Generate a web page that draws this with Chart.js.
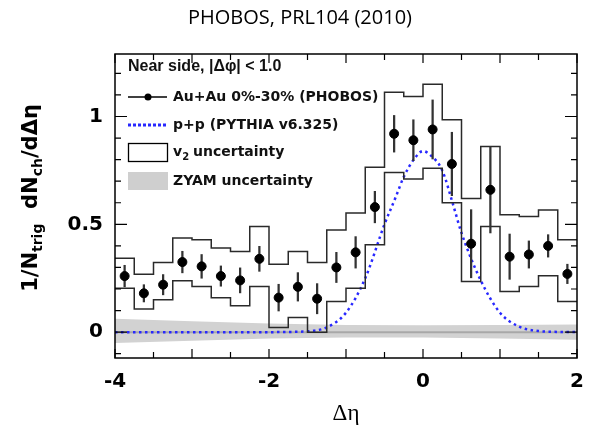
<!DOCTYPE html>
<html>
<head>
<meta charset="utf-8">
<script src="https://cdn.jsdelivr.net/npm/chart.js@4.4.0/dist/chart.umd.min.js"></script>
<style>
  html, body { margin: 0; padding: 0; background: #fff; }
</style>
</head>
<body>
<canvas id="phobosChart" width="592" height="430"></canvas>
<script>
// bin centres in delta-eta (bin width 0.25)
const etaCenters = [-3.875, -3.625, -3.375, -3.125, -2.875, -2.625, -2.375, -2.125,
    -1.875, -1.625, -1.375, -1.125, -0.875, -0.625, -0.375, -0.125,
    0.125, 0.375, 0.625, 0.875, 1.125, 1.375, 1.625, 1.875];
const auauYield = [0.26, 0.18, 0.22, 0.325, 0.305, 0.26, 0.24, 0.34,
    0.16, 0.21, 0.155, 0.30, 0.37, 0.58, 0.92, 0.89,
    0.94, 0.78, 0.41, 0.66, 0.35, 0.36, 0.40, 0.27];
const auauErr = [0.05, 0.04, 0.047, 0.05, 0.055, 0.047, 0.058, 0.058,
    0.062, 0.066, 0.07, 0.07, 0.073, 0.073, 0.085, 0.095,
    0.137, 0.147, 0.158, 0.2, 0.105, 0.063, 0.052, 0.045];
const v2Upper = [0.343, 0.269, 0.323, 0.436, 0.428, 0.39, 0.374, 0.49,
    0.315, 0.374, 0.323, 0.474, 0.552, 0.765, 1.113, 1.093,
    1.15, 0.985, 0.62, 0.861, 0.544, 0.536, 0.567, 0.428];
const v2Lower = [0.204, 0.107, 0.15, 0.238, 0.212, 0.16, 0.122, 0.212,
    0.021, 0.068, 0.0, 0.142, 0.204, 0.405, 0.74, 0.71,
    0.76, 0.60, 0.235, 0.49, 0.188, 0.212, 0.261, 0.142];
const pythiaEta = [-4, -2, -1.5, -1.25, -1.0, -0.75, -0.5, -0.35, -0.25, -0.1, 0,
    0.1, 0.25, 0.4, 0.5, 0.75, 1.0, 1.25, 1.5, 1.75, 2];
const pythiaYield = [0, 0, 0.004, 0.022, 0.09, 0.25, 0.5, 0.63, 0.72, 0.81, 0.84,
    0.82, 0.75, 0.58, 0.46, 0.24, 0.09, 0.025, 0.005, 0.001, 0];
const zyamEta = [-4, -3, -2, -1, 0, 1, 2];
const zyamUpper = [0.062, 0.05, 0.04, 0.033, 0.032, 0.033, 0.035];
const zyamLower = [-0.05, -0.04, -0.03, -0.025, -0.025, -0.03, -0.035];
const yTickLabels = ['0', '0.5', '1'];
const xTickLabels = ['-4', '-2', '0', '2'];

const binHalf = 0.125;

function stepPoints(values) {
    const pts = etaCenters.map((c, i) => ({ x: c - binHalf, y: values[i] }));
    pts.push({ x: etaCenters[etaCenters.length - 1] + binHalf, y: values[values.length - 1] });
    return pts;
}

const tickFont = { family: 'DejaVu Sans', size: 20, weight: 'bold' };

// frame, inward ticks, y title and the in-plot legend
const framePlugin = {
    id: 'frame',
    afterDraw(chart) {
        const ctx = chart.ctx;
        const a = chart.chartArea;
        const xs = chart.scales.x, ys = chart.scales.y;
        ctx.save();
        ctx.strokeStyle = '#000';
        ctx.lineWidth = 1.5;
        ctx.strokeRect(a.left, a.top, a.right - a.left, a.bottom - a.top);
        ctx.lineWidth = 1.2;
        ctx.beginPath();
        xs.ticks.forEach(t => {
            const px = xs.getPixelForValue(t.value);
            const len = Math.abs(t.value % 1) < 1e-6 ? 9 : 6;
            ctx.moveTo(px, a.bottom); ctx.lineTo(px, a.bottom - len);
            ctx.moveTo(px, a.top); ctx.lineTo(px, a.top + len);
        });
        ys.ticks.forEach(t => {
            const py = ys.getPixelForValue(t.value);
            const major = Math.abs((t.value * 2) % 1) < 1e-6;
            const len = major ? 12 : 6;
            ctx.moveTo(a.left, py); ctx.lineTo(a.left + len, py);
            ctx.moveTo(a.right, py); ctx.lineTo(a.right - len, py);
        });
        ctx.stroke();

        // y axis title with subscripts
        const big = 'bold 21px "DejaVu Sans"';
        const small = 'bold 14px "DejaVu Sans"';
        const parts = [['1/N', big, 0], ['trig', small, 6], ['  dN', big, 0], ['ch', small, 6], ['/d\u0394\u03b7', big, 0]];
        let total = 0;
        parts.forEach(p => { ctx.font = p[1]; total += ctx.measureText(p[0]).width; });
        ctx.translate(32, 198);
        ctx.rotate(-Math.PI / 2);
        ctx.fillStyle = '#000';
        ctx.textBaseline = 'middle';
        let cx = -total / 2;
        parts.forEach(p => {
            ctx.font = p[1];
            ctx.fillText(p[0], cx, p[2]);
            cx += ctx.measureText(p[0]).width;
        });
        ctx.restore();

        // legend
        ctx.save();
        ctx.fillStyle = '#111';
        ctx.textBaseline = 'middle';
        ctx.font = 'bold 16px "Liberation Sans"';
        ctx.fillText('Near side, |\u0394\u03c6| < 1.0', 128, 67);
        ctx.font = 'bold 14px "DejaVu Sans"';
        ctx.fillText('Au+Au 0%-30% (PHOBOS)', 173, 97);
        ctx.fillText('p+p (PYTHIA v6.325)', 173, 125);
        ctx.fillText('v', 173, 152);
        const vw = ctx.measureText('v').width;
        ctx.font = 'bold 10px "DejaVu Sans"';
        ctx.fillText('2', 173 + vw, 157);
        ctx.font = 'bold 14px "DejaVu Sans"';
        ctx.fillText(' uncertainty', 173 + vw + 6, 152);
        ctx.fillText('ZYAM uncertainty', 173, 181);
        // symbols
        ctx.strokeStyle = '#000';
        ctx.lineWidth = 1.3;
        ctx.beginPath(); ctx.moveTo(128, 97); ctx.lineTo(167, 97); ctx.stroke();
        ctx.beginPath(); ctx.arc(148, 97, 3.5, 0, Math.PI * 2); ctx.fillStyle = '#000'; ctx.fill();
        ctx.strokeStyle = 'rgb(40,40,255)';
        ctx.lineWidth = 3;
        ctx.setLineDash([3, 2]);
        ctx.beginPath(); ctx.moveTo(128, 125); ctx.lineTo(168, 125); ctx.stroke();
        ctx.setLineDash([]);
        ctx.strokeStyle = '#000';
        ctx.lineWidth = 1.3;
        ctx.strokeRect(128.5, 143.5, 39, 18);
        ctx.fillStyle = '#cfcfcf';
        ctx.fillRect(128, 172, 40, 18);
        ctx.restore();
    }
};

const ctx = document.getElementById('phobosChart').getContext('2d');

const phobosChart = new Chart(ctx, {
    type: 'scatter',
    data: {
        datasets: [
            {
                label: 'Au+Au 0%-30% (PHOBOS)',
                data: etaCenters.map((c, i) => ({ x: c, y: auauYield[i] })),
                backgroundColor: '#000',
                borderColor: '#000',
                pointRadius: 4.5,
                showLine: false
            },
            {
                type: 'bar',
                label: 'stat. error',
                data: etaCenters.map((c, i) => ({ x: c, y: [auauYield[i] - auauErr[i], auauYield[i] + auauErr[i]] })),
                backgroundColor: '#333',
                barThickness: 1.6
            },
            {
                type: 'line',
                label: 'v2 upper',
                data: stepPoints(v2Upper),
                stepped: true,
                borderColor: '#2a2a2a',
                borderWidth: 1.5,
                pointRadius: 0,
                fill: false
            },
            {
                type: 'line',
                label: 'v2 lower',
                data: stepPoints(v2Lower),
                stepped: true,
                borderColor: '#2a2a2a',
                borderWidth: 1.5,
                pointRadius: 0,
                fill: false
            },
            {
                type: 'line',
                label: 'p+p (PYTHIA v6.325)',
                data: pythiaEta.map((x, i) => ({ x: x, y: pythiaYield[i] })),
                borderColor: 'rgb(40,40,255)',
                borderWidth: 2.5,
                borderDash: [2.5, 3.5],
                cubicInterpolationMode: 'monotone',
                pointRadius: 0,
                fill: false
            },
            {
                type: 'line',
                label: 'ZYAM centre',
                data: [{ x: -4, y: 0 }, { x: 2, y: 0 }],
                borderColor: '#a8a8a8',
                borderWidth: 2,
                pointRadius: 0,
                fill: false
            },
            {
                type: 'line',
                label: 'ZYAM uncertainty',
                data: zyamEta.map((x, i) => ({ x: x, y: zyamUpper[i] })),
                borderWidth: 0,
                pointRadius: 0,
                backgroundColor: '#d2d2d2',
                fill: '+1'
            },
            {
                type: 'line',
                label: 'ZYAM lower',
                data: zyamEta.map((x, i) => ({ x: x, y: zyamLower[i] })),
                borderWidth: 0,
                pointRadius: 0,
                fill: false
            }
        ]
    },
    options: {
        responsive: false,
        animation: false,
        events: [],
        layout: { padding: { left: 23, right: 15, top: 0, bottom: 0 } },
        plugins: {
            legend: { display: false },
            tooltip: { enabled: false },
            title: {
                display: true,
                text: 'PHOBOS, PRL104 (2010)',
                color: '#000',
                font: { family: 'Open Sans', size: 20, weight: 'normal' },
                padding: { top: 6, bottom: 24 }
            }
        },
        scales: {
            x: {
                type: 'linear',
                min: -4,
                max: 2,
                offset: false,
                grid: { display: false },
                border: { display: false },
                ticks: {
                    stepSize: 0.5,
                    includeBounds: false,
                    maxRotation: 0,
                    autoSkip: false,
                    padding: 4,
                    color: '#000',
                    font: tickFont,
                    callback: v => {
                        const lbl = String(v);
                        return xTickLabels.includes(lbl) ? lbl : '';
                    }
                },
                title: {
                    display: true,
                    text: '\u0394\u03b7',
                    color: '#000',
                    font: { family: 'Liberation Serif', size: 23 },
                    padding: { top: 2, bottom: 2 }
                },
                afterFit: s => { s.height = 72; }
            },
            y: {
                min: -0.12,
                max: 1.29,
                grid: { display: false },
                border: { display: false },
                ticks: {
                    stepSize: 0.1,
                    includeBounds: false,
                    autoSkip: false,
                    padding: 4,
                    color: '#000',
                    font: tickFont,
                    callback: v => {
                        const lbl = String(Math.round(v * 10) / 10);
                        return yTickLabels.includes(lbl) ? lbl : '';
                    }
                },
                afterFit: s => { s.width = 92; }
            }
        }
    },
    plugins: [framePlugin]
});
</script>
</body>
</html>
